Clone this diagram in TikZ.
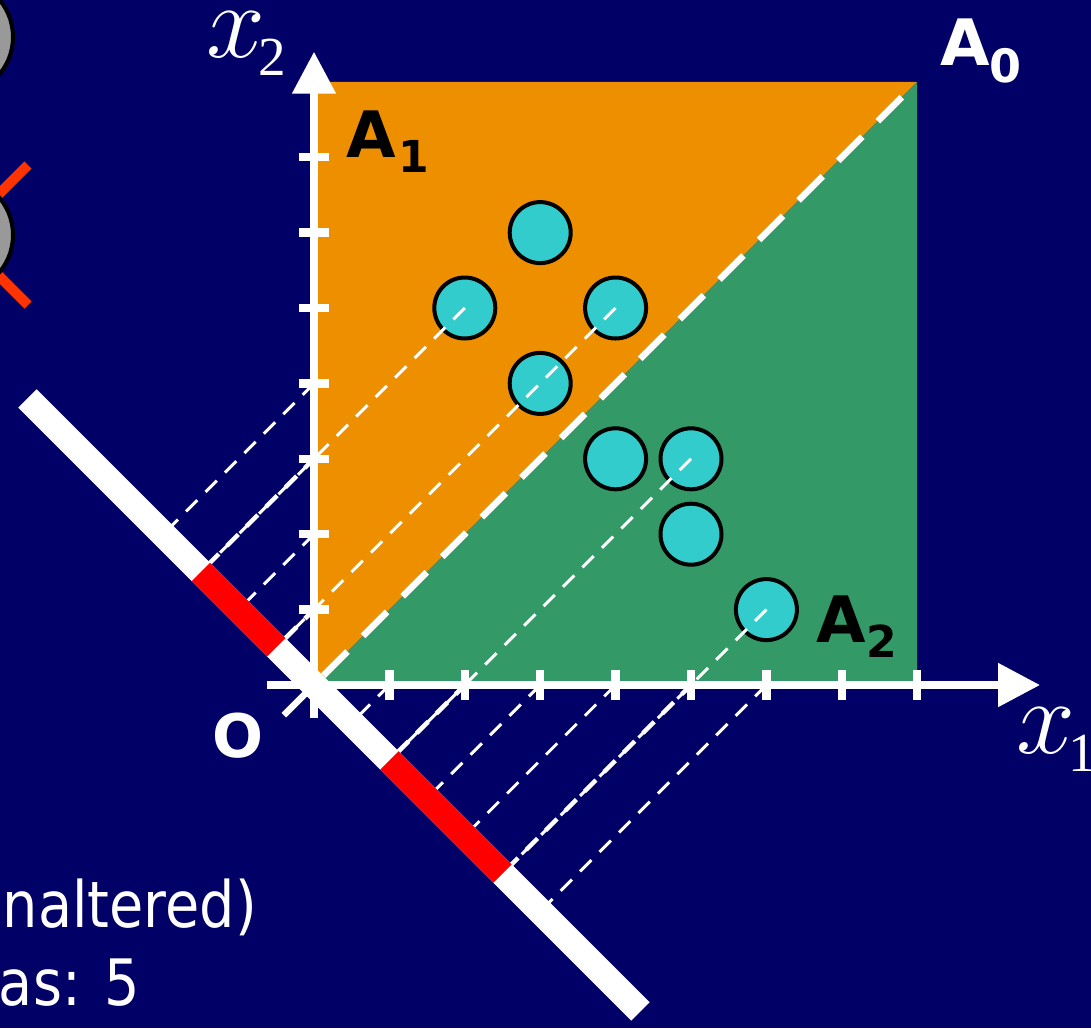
\documentclass[tikz,border=0pt]{standalone}
\usepackage{fontspec}
\setmainfont{DejaVu Sans}
\newfontfamily\tnr{Liberation Serif}
\newfontfamily\tahomaish[FakeStretch=0.87]{DejaVu Sans}
\usetikzlibrary{arrows.meta}
\definecolor{bg}{RGB}{0,0,102}
\definecolor{orng}{RGB}{238,143,0}
\definecolor{grn}{RGB}{51,153,102}
\definecolor{cyn}{RGB}{51,204,204}
\definecolor{xred}{RGB}{255,51,0}
\definecolor{gry}{RGB}{153,153,153}
\tikzset{
  greycirc/.style={circle, draw=black, line width=4pt, fill=gry, minimum size=116pt, inner sep=0pt},
  xline/.style={xred, line width=10pt},
  pt/.style={circle, draw=black, line width=4pt, fill=cyn, minimum size=61pt, inner sep=0pt},
  thindash/.style={white, line width=3pt, dash pattern=on 16pt off 11.5pt},
  thindashb/.style={white, line width=4.5pt, dash pattern=on 16pt off 11.5pt, dash phase=3pt},
  thickdash/.style={white, line width=6.5pt, dash pattern=on 34pt off 22pt},
  projline/.style={white, line width=26pt},
  redseg/.style={red, line width=26pt},
  axis/.style={white, line width=8pt, -{Triangle[length=42pt,width=42pt]}},
  tick/.style={white, line width=8.5pt},
  blab/.style={anchor=base west, inner sep=0pt, font=\bfseries\fontsize{64}{64}\selectfont},
  bsub/.style={anchor=base west, inner sep=0pt, font=\bfseries\fontsize{44}{44}\selectfont},
  xlab/.style={anchor=base west, inner sep=0pt, white, font=\fontsize{20}{20}\selectfont, scale=5.1, transform shape},
  btext/.style={anchor=base east, inner sep=0pt, white, font=\tahomaish\fontsize{64}{64}\selectfont}
}
\newcommand{\axlabel}[1]{$x$\hspace{-1.2pt}\raisebox{-3.7pt}{\tnr\fontsize{10.8}{10.8}\selectfont #1}}
\begin{document}
\begin{tikzpicture}[x=1pt,y=-1pt]
\useasboundingbox (0,0) rectangle (1091,1028);
\fill[bg] (0,0) rectangle (1091,1028);
\clip (0,0) rectangle (1091,1028);

% partial items at the left edge
\coordinate (xa1) at (-112,305); \coordinate (xa2) at (28,165);
\coordinate (xb1) at (-112,165); \coordinate (xb2) at (28,305);
\draw[xline] (xa1) -- (xa2);
\draw[xline] (xb1) -- (xb2);
\node[greycirc] (g1) at (-45,37) {};
\node[greycirc] (g2) at (-45,235) {};

\node[btext] (t1) at (257,927) {naltered)};
\node[btext] (t2) at (140,1005) {as: 5};

\begin{scope}[shift={(314,685)}, x=75.4pt, y=75.4pt]
  \fill[orng] (0,0) -- (0,8) -- (8,8) -- cycle;
  \fill[grn] (0,0) -- (8,8) -- (8,0) -- cycle;

  % points
  \node[pt] (c1) at (3,6) {};
  \node[pt] (c2) at (2,5) {};
  \node[pt] (c3) at (4,5) {};
  \node[pt] (c4) at (3,4) {};
  \node[pt] (c5) at (4,3) {};
  \node[pt] (c6) at (5,3) {};
  \node[pt] (c7) at (5,2) {};
  \node[pt] (c8) at (6,1) {};

  % feet on the projection line
  \coordinate (f1) at (-2,2);
  \coordinate (f2) at (-1.5,1.5);
  \coordinate (f3) at (-1,1);
  \coordinate (f4) at (-0.5,0.5);
  \coordinate (f5) at (0.5,-0.5);
  \coordinate (f6) at (1,-1);
  \coordinate (f7) at (1.5,-1.5);
  \coordinate (f8) at (2,-2);
  \coordinate (f9) at (2.5,-2.5);
  \coordinate (f10) at (3,-3);
  % axis marks
  \coordinate (y1) at (0,1); \coordinate (y2) at (0,2);
  \coordinate (y3) at (0,3); \coordinate (y4) at (0,4);
  \coordinate (x1) at (1,0); \coordinate (x2) at (2,0);
  \coordinate (x3) at (3,0); \coordinate (x4) at (4,0);
  \coordinate (x5) at (5,0); \coordinate (x6) at (6,0);

  % thin dashed projection lines
  \draw[thindash] (y4) -- (f1);
  \draw[thindash] (c2.center) -- (f2);
  \draw[thindashb] (y3) -- (f2);
  \draw[thindash] (y2) -- (f3);
  \draw[thindash] (c3.center) -- (f4);
  \draw[thindashb] (y1) -- (f4);
  \draw[thindash] (x1) -- (f5);
  \draw[thindash] (c6.center) -- (f6);
  \draw[thindashb] (x2) -- (f6);
  \draw[thindash] (x3) -- (f7);
  \draw[thindash] (x4) -- (f8);
  \draw[thindash] (c8.center) -- (f9);
  \draw[thindashb] (x5) -- (f9);
  \draw[thindash] (x6) -- (f10);

  % diagonal boundary
  \coordinate (d0) at (-0.4,-0.4);
  \coordinate (A0pt) at (8,8);
  \draw[thickdash] (d0) -- (A0pt);

  % projection line
  \coordinate (p0) at (-3.8,3.8);
  \coordinate (p1) at (4.33,-4.33);
  \draw[projline] (p0) -- (p1);
  \draw[redseg] (f2) -- (f4);
  \draw[redseg] (f6) -- (f9);

  % axes
  \coordinate (xs) at (-0.62,0); \coordinate (xe) at (9.63,0);
  \coordinate (ys) at (0,-0.44); \coordinate (ye) at (0,8.4);
  \draw[axis] (xs) -- (xe);
  \draw[axis] (ys) -- (ye);
  \foreach \i in {1,...,8} \draw[tick] (\i,-0.2) -- (\i,0.2);
  \foreach \i in {1,...,7} \draw[tick] (-0.2,\i) -- (0.2,\i);
\end{scope}

% labels
\node[blab, white] (a0) at (940,65) {A};
\node[bsub, white, font=\bfseries\fontsize{46}{46}\selectfont] (a0s) at (989,82) {0};
\node[blab, black] (a1) at (346,157) {A};
\node[bsub, black] (a1s) at (398,172) {1};
\node[blab, black] (a2) at (816,642) {A};
\node[bsub, black] (a2s) at (866,657) {2};
\node[blab, white, font=\bfseries\fontsize{60}{60}\selectfont] (o) at (212,757) {O};
\node[xlab] (lx2) at (205,57) {\axlabel{2}};
\node[xlab] (lx1) at (1015,753) {\axlabel{1}};
\end{tikzpicture}
\end{document}
